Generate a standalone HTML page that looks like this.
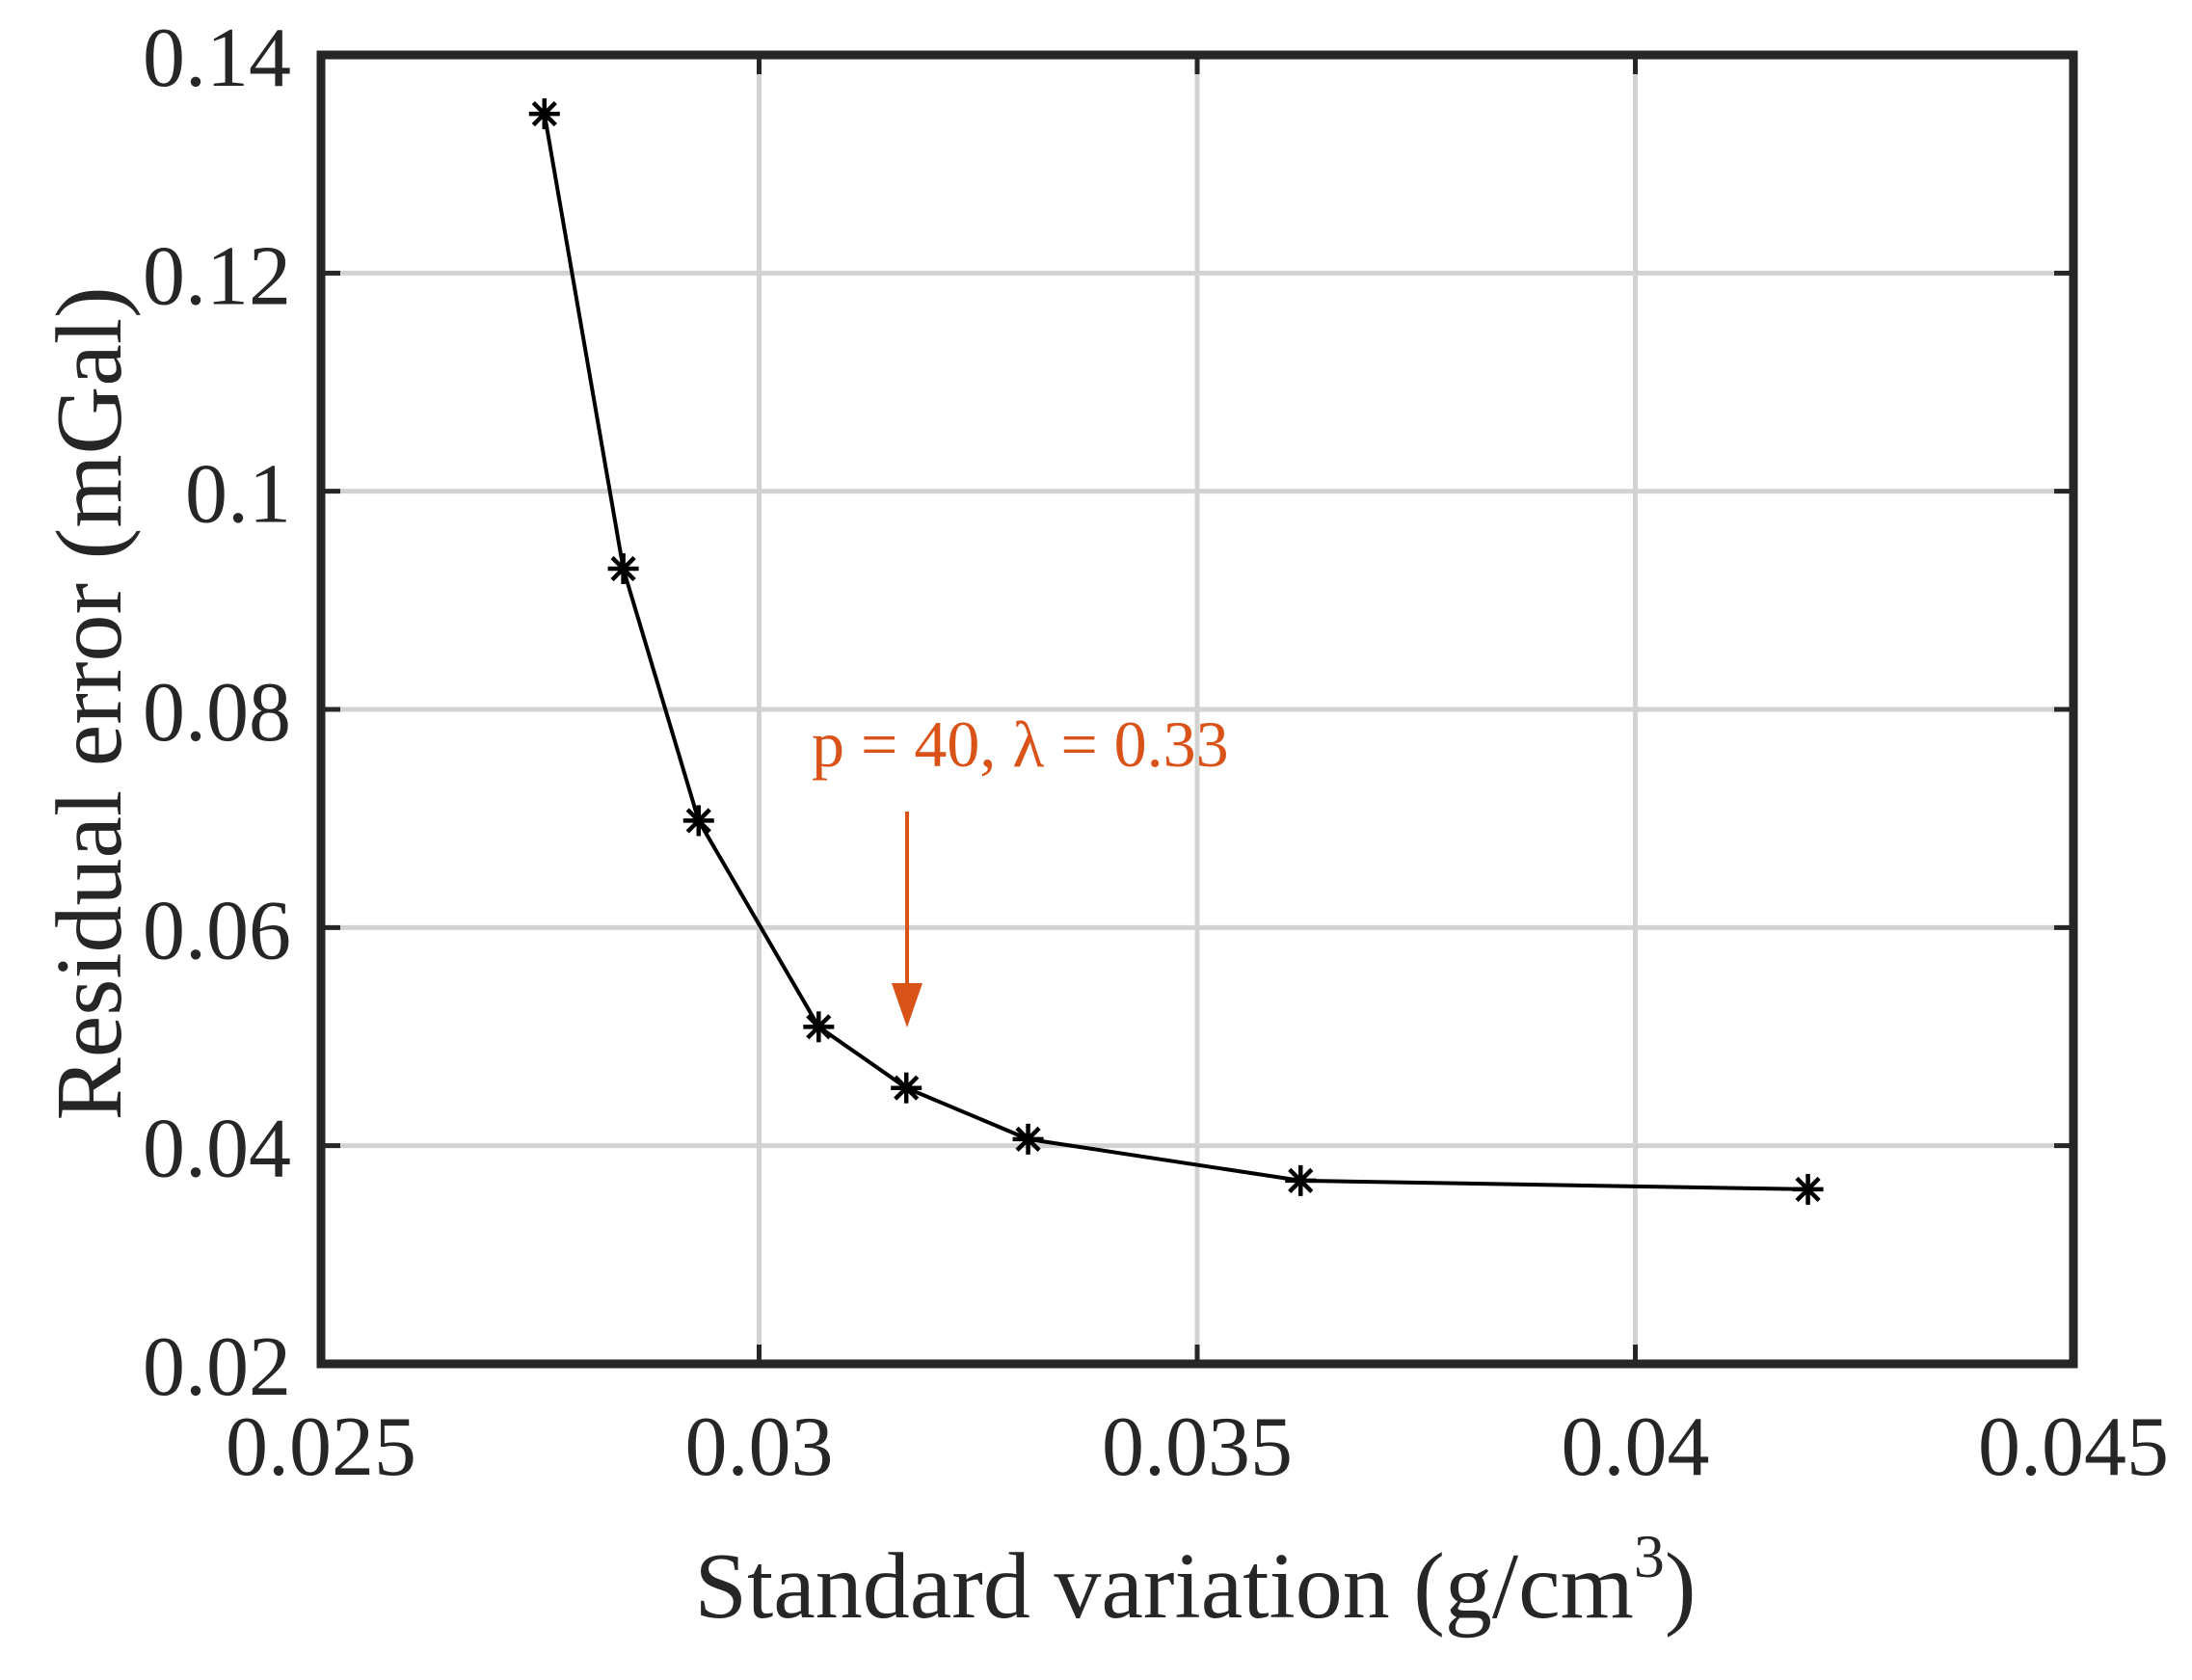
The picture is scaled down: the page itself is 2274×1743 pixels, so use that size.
<!DOCTYPE html>
<html><head><meta charset="utf-8"><style>
html,body{margin:0;padding:0;background:#fff;width:2274px;height:1743px;overflow:hidden}
svg text{font-family:"Liberation Serif",serif;fill:#262626}
</style></head><body>
<svg id="chart" width="2274" height="1743" viewBox="0 0 2274 1743" xmlns="http://www.w3.org/2000/svg">
<g id="grid"></g>
<g id="series"></g>
<g id="axes"></g>
<g id="annot">
<text x="842" y="795" font-size="68" style="fill:#d95319">p = 40, λ = 0.33</text>
<line x1="941" y1="842" x2="941" y2="1030" stroke="#d95319" stroke-width="4"/>
<polygon points="925,1020 957,1020 941,1066" fill="#d95319"/>
</g>
<text x="1240" y="1678" font-size="98" text-anchor="middle">Standard variation (g/cm<tspan dy="-42" font-size="64">3</tspan><tspan dy="42">)</tspan></text>
<text transform="translate(125,730) rotate(-90)" font-size="98" text-anchor="middle">Residual error (mGal)</text>
</svg>
<script>
const xs = [0.02755, 0.02845, 0.02931, 0.03068, 0.03168, 0.03307, 0.03618, 0.04197];
const ys = [0.1346, 0.0929, 0.0698, 0.0509, 0.0453, 0.0406, 0.0368, 0.0360];
const xTicks = [0.025, 0.03, 0.035, 0.04, 0.045];
const xTickLabels = ["0.025", "0.03", "0.035", "0.04", "0.045"];
const yTicks = [0.02, 0.04, 0.06, 0.08, 0.1, 0.12, 0.14];
const yTickLabels = ["0.02", "0.04", "0.06", "0.08", "0.1", "0.12", "0.14"];

const X0=333, X1=2151, Y0=1415, Y1=57;
const xMin=0.025, xMax=0.045, yMin=0.02, yMax=0.14;
function sx(v){return X0+(v-xMin)/(xMax-xMin)*(X1-X0);}
function sy(v){return Y0-(v-yMin)/(yMax-yMin)*(Y0-Y1);}
const NS="http://www.w3.org/2000/svg";
function mk(tag,attrs,parent){const e=document.createElementNS(NS,tag);for(const k in attrs)e.setAttribute(k,attrs[k]);parent.appendChild(e);return e;}
const grid=document.getElementById('grid'), axes=document.getElementById('axes'), series=document.getElementById('series');

xTicks.forEach((t,i)=>{
  const x=sx(t);
  if(i>0&&i<xTicks.length-1){
    const g=mk('line',{x1:x,y1:Y1,x2:x,y2:Y0,stroke:'#d2d2d2','stroke-width':5},grid);
    
    
    const tk=mk('line',{x1:x,y1:Y0,x2:x,y2:Y0-20,stroke:'#262626','stroke-width':5},axes);
    
    
    const tk2=mk('line',{x1:x,y1:Y1,x2:x,y2:Y1+20,stroke:'#262626','stroke-width':5},axes);
    
    
  }
  const tx=mk('text',{x:x,y:1530,'font-size':88,'text-anchor':'middle'},axes);
  tx.textContent=xTickLabels[i];
  
  
});
yTicks.forEach((t,i)=>{
  const y=sy(t);
  if(i>0&&i<yTicks.length-1){
    const g=mk('line',{x1:X0,y1:y,x2:X1,y2:y,stroke:'#d2d2d2','stroke-width':5},grid);
    
    
    const tk=mk('line',{x1:X0,y1:y,x2:X0+20,y2:y,stroke:'#262626','stroke-width':5},axes);
    
    
    const tk2=mk('line',{x1:X1,y1:y,x2:X1-20,y2:y,stroke:'#262626','stroke-width':5},axes);
    
    
  }
  const tx=mk('text',{x:302,y:y+32,'font-size':88,'text-anchor':'end'},axes);
  tx.textContent=yTickLabels[i];
  
  
});
const frame=mk('rect',{x:X0,y:Y1,width:X1-X0,height:Y0-Y1,fill:'none',stroke:'#262626','stroke-width':9},axes);



const pts=xs.map((v,i)=>sx(v)+','+sy(ys[i])).join(' ');
const line=mk('polyline',{points:pts,fill:'none',stroke:'#000','stroke-width':4},series);


xs.forEach((v,i)=>{
  const cx=sx(v), cy=sy(ys[i]), r=16;
  const g=mk('g',{stroke:'#000','stroke-width':4.5},series);
  
  
  mk('line',{x1:cx,y1:cy-r,x2:cx,y2:cy+r},g);
  mk('line',{x1:cx-r,y1:cy,x2:cx+r,y2:cy},g);
  const d=r*0.72;
  mk('line',{x1:cx-d,y1:cy-d,x2:cx+d,y2:cy+d},g);
  mk('line',{x1:cx-d,y1:cy+d,x2:cx+d,y2:cy-d},g);
});
</script>
</body></html>
